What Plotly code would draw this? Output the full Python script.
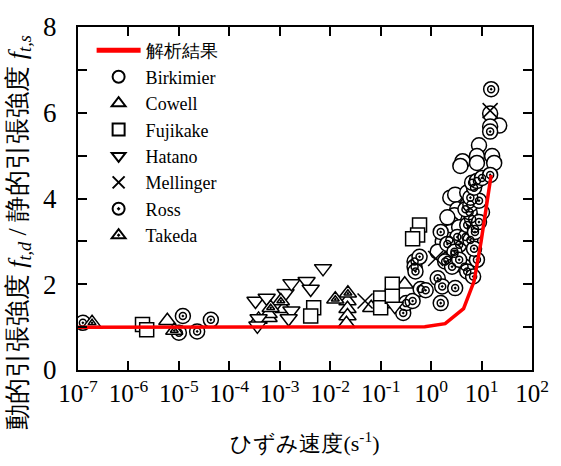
import plotly.graph_objects as go

# ---------------- data ----------------
line_x = [1e-7, 1e-6, 1e-5, 1e-4, 1e-3, 1e-2, 1e-1, 0.75, 1.9, 4.4, 7.1, 9.8, 15.5]
line_y = [1.0, 1.0, 1.0, 1.0, 1.0, 1.0, 1.0, 1.01, 1.08, 1.43, 2.07, 3.0, 4.55]

birk_x = [14.8, 22.4, 14.8, 8.9, 4.2, 3.8, 8.1, 8.1, 16.2, 17.8, 2.4, 3.0, 3.3, 2.9, 2.6,
          2.4, 2.1, 1.7, 1.35, 3.6, 5.2, 5.2, 10.2]
birk_y = [5.98, 5.70, 5.68, 5.24, 4.87, 4.76, 4.99, 4.83, 4.99, 4.83, 4.02, 4.09, 3.75, 3.61,
          3.40, 3.22, 3.56, 2.99, 2.76, 3.33, 4.14, 3.84, 3.68]

ross_x = [1.25e-7, 1.0e-5, 1.2e-5, 2.3e-5, 4.3e-5,
          0.28, 0.32, 0.43, 0.62, 0.78, 0.47, 0.47, 0.49, 0.59,
          1.35, 1.66, 3.0, 1.55, 2.1, 2.9, 4.6, 8.1, 3.6, 2.3, 3.3, 4.8, 6.0,
          1.55, 5.2, 7.4, 6.5, 5.8, 4.8, 6.0, 8.9, 6.0, 7.1, 6.5, 8.1, 10.2, 14.8, 14.8, 15.5,
          2.1, 2.9, 7.1, 1.9, 2.6, 3.6, 5.2, 7.4, 8.9, 6.8]
ross_y = [1.10, 0.87, 1.26, 0.90, 1.17,
          1.33, 1.56, 1.61, 1.89, 1.86, 2.53, 2.41, 2.30, 2.64,
          2.14, 1.95, 1.91, 1.56, 2.57, 2.71, 2.41, 2.57, 2.92, 3.03, 3.10, 3.10, 3.03,
          3.22, 3.38, 3.29, 3.52, 3.68, 3.75, 3.86, 3.95, 4.02, 4.25, 4.37, 4.41, 4.48, 4.55,
          5.56, 6.55,
          2.94, 2.76, 2.83, 2.53, 2.41, 2.57, 2.30, 3.22, 3.45, 2.18]

cow_x = [5.9e-6, 3.8e-4, 6.0e-4, 1.2e-3, 6.0e-4, 0.022, 0.022, 0.022, 0.021, 0.065, 0.16, 0.30]
cow_y = [1.15, 1.18, 1.22, 1.43, 1.31, 1.61, 1.43, 1.26, 1.08, 1.45, 1.54, 2.00]

fuji_x = [1.9e-6, 2.3e-6, 4.7e-3, 4.1e-3, 0.10, 0.10, 0.17, 0.17, 0.59, 0.54, 0.43]
fuji_y = [1.06, 0.94, 1.45, 1.26, 1.68, 1.45, 2.00, 1.72, 3.38, 3.15, 3.06]

hat_x = [3.3e-4, 5.5e-4, 3.8e-4, 3.6e-4, 1.3e-3, 1.7e-3, 3.4e-3, 4.1e-3, 1.7e-3, 1.5e-3,
         7.2e-3, 0.19]
hat_y = [1.61, 1.68, 1.20, 1.03, 1.79, 2.02, 2.07, 1.89, 1.38, 1.20, 2.37, 1.49]

mel_x = [0.049, 1.23, 14.8]
mel_y = [1.61, 2.60, 6.05]

take_x = [1.9e-7, 8.1e-6, 1.05e-3, 6.6e-4, 0.0126, 0.0224]
take_y = [1.10, 0.92, 1.61, 1.45, 1.65, 1.79]

xtick_vals = [1e-7, 1e-6, 1e-5, 1e-4, 1e-3, 1e-2, 1e-1, 1e0, 1e1, 1e2]
xtick_text = ["10<sup>-7</sup>", "10<sup>-6</sup>", "10<sup>-5</sup>", "10<sup>-4</sup>",
              "10<sup>-3</sup>", "10<sup>-2</sup>", "10<sup>-1</sup>", "10<sup>0</sup>",
              "10<sup>1</sup>", "10<sup>2</sup>"]
ytick_vals = [0, 2, 4, 6, 8]
ytick_text = ["0", "2", "4", "6", "8"]

x_title = "ひずみ速度(s<sup>-1</sup>)"
y_title = "動的引張強度 <i>f<sub>t,d</sub></i> / 静的引張強度 <i>f<sub>t,s</sub></i>"

# ---------------- figure ----------------
FONT = "Liberation Serif"
mk_line = dict(color="black", width=1.5)

fig = go.Figure()

fig.add_trace(go.Scatter(x=birk_x, y=birk_y, mode="markers", name="Birkimier", legendrank=2,
                         marker=dict(symbol="circle", size=15, color="white", line=mk_line)))
fig.add_trace(go.Scatter(x=ross_x, y=ross_y, mode="markers", name="Ross", legendrank=7,
                         legendgroup="ross",
                         marker=dict(symbol="circle-dot", size=15, color="white", line=mk_line)))
fig.add_trace(go.Scatter(x=ross_x, y=ross_y, mode="markers", name="Ross", showlegend=False,
                         legendgroup="ross",
                         marker=dict(symbol="circle-open", size=7, color="black",
                                     line=dict(color="black", width=1.5))))
fig.add_trace(go.Scatter(x=cow_x, y=cow_y, mode="markers", name="Cowell", legendrank=3,
                         marker=dict(symbol="triangle-up", size=15, color="white", line=mk_line)))
fig.add_trace(go.Scatter(x=fuji_x, y=fuji_y, mode="markers", name="Fujikake", legendrank=4,
                         marker=dict(symbol="square", size=14, color="white", line=mk_line)))
fig.add_trace(go.Scatter(x=hat_x, y=hat_y, mode="markers", name="Hatano", legendrank=5,
                         marker=dict(symbol="triangle-down", size=15, color="white", line=mk_line)))
fig.add_trace(go.Scatter(x=mel_x, y=mel_y, mode="markers", name="Mellinger", legendrank=6,
                         marker=dict(symbol="x-thin", size=15, color="black",
                                     line=dict(color="black", width=1.5))))
fig.add_trace(go.Scatter(x=take_x, y=take_y, mode="markers", name="Takeda", legendrank=8,
                         legendgroup="take",
                         marker=dict(symbol="triangle-up-dot", size=15, color="white", line=mk_line)))
fig.add_trace(go.Scatter(x=take_x, y=take_y, mode="markers", name="Takeda", showlegend=False,
                         legendgroup="take",
                         marker=dict(symbol="triangle-up-open", size=7, color="black",
                                     line=dict(color="black", width=1.5))))
fig.add_trace(go.Scatter(x=line_x, y=line_y, mode="lines", name="解析結果", legendrank=1,
                         line=dict(color="#ff0000", width=3.5)))

fig.update_layout(
    width=561, height=466,
    margin=dict(l=78, r=26, t=22, b=96),
    paper_bgcolor="white", plot_bgcolor="white",
    font=dict(family=FONT, color="black", size=22),
    showlegend=True,
    legend=dict(x=0.03, y=0.985, xanchor="left", yanchor="top",
                bgcolor="rgba(0,0,0,0)", borderwidth=0,
                font=dict(size=18, family=FONT, color="black"),
                itemsizing="constant", itemwidth=44, tracegroupgap=0),
    annotations=[dict(text=y_title, textangle=-90, xref="paper", yref="paper",
                      x=-0.131, y=0.40, xanchor="center", yanchor="middle",
                      showarrow=False, font=dict(size=26, family=FONT, color="black"))],
)

fig.update_xaxes(type="log", range=[-7, 2], tickvals=xtick_vals, ticktext=xtick_text,
                 showgrid=False, zeroline=False,
                 showline=True, linecolor="black", linewidth=2, mirror="ticks",
                 ticks="inside", ticklen=9, tickwidth=1.5, tickcolor="black",
                 tickfont=dict(size=25, family=FONT),
                 title=dict(text=x_title, font=dict(size=22, family=FONT), standoff=30))
fig.update_yaxes(range=[0, 8], tickvals=ytick_vals, ticktext=ytick_text,
                 showgrid=False, zeroline=False,
                 showline=True, linecolor="black", linewidth=2, mirror="ticks",
                 ticks="inside", ticklen=9, tickwidth=1.5, tickcolor="black",
                 minor=dict(dtick=1, ticks="inside", ticklen=9, tickwidth=1.5,
                            tickcolor="black", showgrid=False),
                 tickfont=dict(size=27, family=FONT), ticklabelstandoff=14)

fig.write_html("out.html")
